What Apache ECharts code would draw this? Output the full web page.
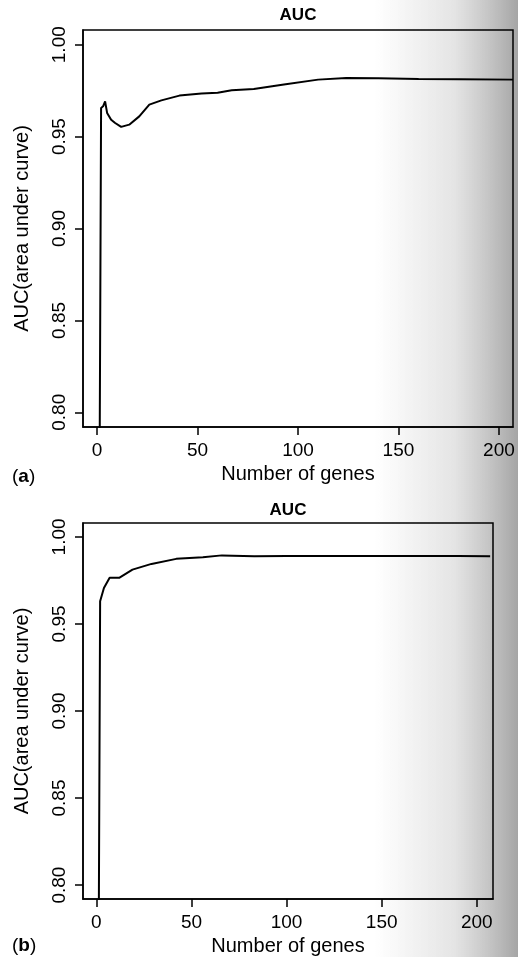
<!DOCTYPE html>
<html>
<head>
<meta charset="utf-8">
<script src="https://cdn.jsdelivr.net/npm/echarts@6/dist/echarts.min.js"></script>
<style>
  html, body { margin: 0; padding: 0; background: #fff; }
  #chart { width: 518px; height: 957px; }
</style>
</head>
<body>
<div id="chart"></div>
<script>
// ---- data ----
var genesA = [1, 2, 3, 4, 5, 7, 9, 12, 16, 21, 26, 32, 41, 52, 60, 67, 78, 93, 110, 124, 140, 160, 180, 207];
var aucA   = [0.70, 0.9656, 0.9665, 0.9692, 0.9629, 0.9592, 0.9574, 0.9553, 0.9565, 0.9610, 0.9674, 0.9697,
              0.9723, 0.9734, 0.9738, 0.9752, 0.9759, 0.9783, 0.9810, 0.9819, 0.9818, 0.9814, 0.9812, 0.9810];

var genesB = [1, 2, 3, 4, 7, 8, 12, 19, 29, 42, 56, 66, 83, 100, 130, 160, 190, 207];
var aucB   = [0.70, 0.9630, 0.9640, 0.9707, 0.9765, 0.9774, 0.9765, 0.9812, 0.9845, 0.9874, 0.9883, 0.9894,
              0.9889, 0.9890, 0.9891, 0.9890, 0.9890, 0.9889];

var xTicks = [0, 50, 100, 150, 200];
var yTicks = [0.80, 0.85, 0.90, 0.95, 1.00];

var panelTitle = 'AUC';
var xTitle = 'Number of genes';
var yTitle = 'AUC(area under curve)';
var panelTags = ['a', 'b'];

function pairs(xs, ys) { return xs.map(function (x, i) { return [x, ys[i]]; }); }

var FONT = '"Liberation Sans", Arial, Helvetica, sans-serif';

function xAxisCfg(idx, min, max) {
  return {
    type: 'value', gridIndex: idx, min: min, max: max, position: 'bottom',
    name: xTitle, nameLocation: 'middle', nameGap: 37,
    nameTextStyle: { fontFamily: FONT, fontSize: 20, color: '#000' },
    axisLine: { show: true, onZero: false, lineStyle: { color: '#000', width: 1.5 } },
    axisTick: { show: true, inside: false, length: 8, lineStyle: { color: '#000', width: 1.5 }, customValues: xTicks },
    axisLabel: { fontFamily: FONT, fontSize: 19, color: '#000', margin: 14, customValues: xTicks },
    splitLine: { show: false }
  };
}
function yAxisCfg(idx) {
  return {
    type: 'value', gridIndex: idx, min: 0.792, max: 1.008, position: 'left',
    name: yTitle, nameLocation: 'middle', nameGap: 51,
    nameTextStyle: { fontFamily: FONT, fontSize: 20, color: '#000' },
    axisLine: { show: true, onZero: false, lineStyle: { color: '#000', width: 1.5 } },
    axisTick: { show: true, inside: false, length: 8, lineStyle: { color: '#000', width: 1.5 }, customValues: yTicks },
    axisLabel: { fontFamily: FONT, fontSize: 19, color: '#000', margin: 14, rotate: 90,
      customValues: yTicks, formatter: function (v) { return Number(v).toFixed(2); } },
    splitLine: { show: false }
  };
}

function tag(x, y, t) {
  return { type: 'text', x: x, y: y, style: {
    text: '{p|(}{b|' + t + '}{p|)}', fill: '#000', textAlign: 'left', textVerticalAlign: 'middle', align: 'left', verticalAlign: 'middle',
    rich: { p: { font: '19px ' + FONT, fill: '#000' }, b: { font: 'bold 19px ' + FONT, fill: '#000' } } } };
}

var chart = echarts.init(document.getElementById('chart'), null, { renderer: 'canvas' });
chart.setOption({
  backgroundColor: 'transparent',
  animation: false,
  graphic: [
    { type: 'rect', z: -10, zlevel: 0, silent: true,
      shape: { x: 375, y: 0, width: 143, height: 957 },
      style: { fill: { type: 'linear', x: 0, y: 0, x2: 1, y2: 0,
        colorStops: [ { offset: 0, color: 'rgba(180,180,180,0)' }, { offset: 0.55, color: 'rgba(180,180,180,0.35)' }, { offset: 1, color: 'rgba(160,160,160,0.95)' } ] } } },
    { type: 'text', x: 298, y: 15, style: { text: panelTitle, font: 'bold 17px ' + FONT, fill: '#000', textAlign: 'center', textVerticalAlign: 'middle', align: 'center', verticalAlign: 'middle' } },
    { type: 'text', x: 288, y: 510, style: { text: panelTitle, font: 'bold 17px ' + FONT, fill: '#000', textAlign: 'center', textVerticalAlign: 'middle', align: 'center', verticalAlign: 'middle' } },
    tag(12, 477, panelTags[0]),
    tag(12, 946, panelTags[1])
  ],
  grid: [
    { left: 83, top: 30, width: 430, height: 397, show: true, borderColor: '#000', borderWidth: 1.5, backgroundColor: 'transparent' },
    { left: 83, top: 523, width: 410, height: 376, show: true, borderColor: '#000', borderWidth: 1.5, backgroundColor: 'transparent' }
  ],
  xAxis: [ xAxisCfg(0, -7, 207), xAxisCfg(1, -7, 208.5) ],
  yAxis: [ yAxisCfg(0), yAxisCfg(1) ],
  series: [
    { type: 'line', xAxisIndex: 0, yAxisIndex: 0, data: pairs(genesA, aucA), showSymbol: false, clip: true,
      lineStyle: { color: '#000', width: 2 } },
    { type: 'line', xAxisIndex: 1, yAxisIndex: 1, data: pairs(genesB, aucB), showSymbol: false, clip: true,
      lineStyle: { color: '#000', width: 2 } }
  ]
});
</script>
</body>
</html>
